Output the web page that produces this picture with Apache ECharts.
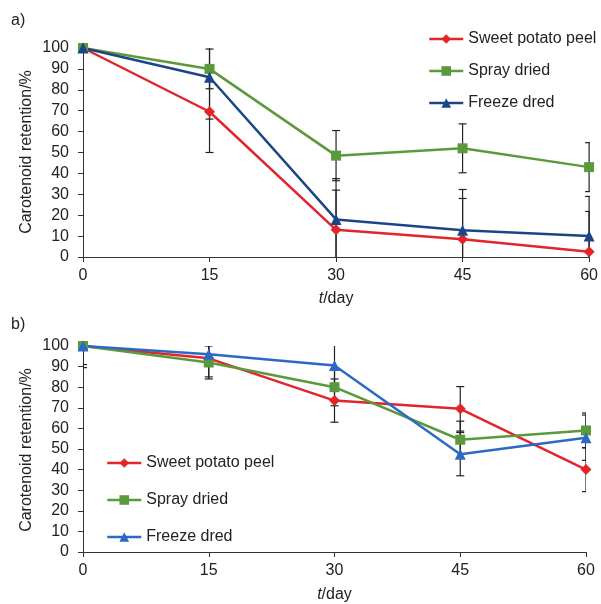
<!DOCTYPE html>
<html>
<head>
<meta charset="utf-8">
<script src="https://cdn.jsdelivr.net/npm/echarts@6/dist/echarts.min.js"></script>
<style>
  html, body { margin: 0; padding: 0; background: #fff; }
  #chart { width: 601px; height: 604px; }
</style>
</head>
<body>
<div id="chart"></div>
<script>
const days = [0, 15, 30, 45, 60];
const names = ['Sweet potato peel', 'Spray dried', 'Freeze dred'];
const yTitle = 'Carotenoid retention/%';

// panel a
const peelA = [100, 69.5, 13, 8.5, 2.5];
const peelAErr = [0, 19.5, 19, 19.5, 19.3];
const sprayA = [100, 90, 48.5, 52, 43];
const sprayAErr = [0, 9.5, 12, 11.7, 11.7];
const freezeA = [100, 86, 18, 12.8, 10];
const freezeAErr = [0, 20, 19.5, 19.5, 19];

// panel b
const peelB = [100, 94, 73.5, 69.5, 40];
const peelBErr = [10.5, 9, 10.5, 10.8, 10.7];
const sprayB = [100, 92, 80, 54.5, 59];
const sprayBErr = [9, 8, 9, 9, 8.5];
const freezeB = [100, 96, 90.5, 47.5, 55.5];
const freezeBErr = [0, 4.5, 10, 10.5, 11];

const red = '#e2242b';
const green = '#5a9a3d';
const blueA = '#1c4587';
const blueB = '#2d68c4';
const symbols = ['diamond', 'rect', 'triangle'];
const symbolSizes = [11, 10, 11];
const font = 'Liberation Sans, Arial, sans-serif';
const textColor = '#222';

const chart = echarts.init(document.getElementById('chart'), null, { renderer: 'canvas' });

function toPairs(values) {
    return days.map((d, i) => [d, values[i]]);
}

function errData(values, errs) {
    const out = [];
    days.forEach((d, i) => {
        if (errs[i] > 0) {
            out.push([d, values[i] - errs[i], values[i] + errs[i]]);
        }
    });
    return out;
}

function lineSeries(name, values, color, idx, grid) {
    return {
        name: name,
        type: 'line',
        xAxisIndex: grid,
        yAxisIndex: grid,
        data: toPairs(values),
        symbol: symbols[idx],
        symbolSize: symbolSizes[idx],
        showAllSymbol: true,
        lineStyle: { color: color, width: 2.5 },
        itemStyle: { color: color },
        z: 3,
        animation: false
    };
}

function errSeries(values, errs, grid) {
    return {
        type: 'custom',
        xAxisIndex: grid,
        yAxisIndex: grid,
        clip: true,
        z: 2,
        silent: true,
        animation: false,
        data: errData(values, errs),
        renderItem: function (params, api) {
            const x = api.value(0);
            const lo = api.coord([x, api.value(1)]);
            const hi = api.coord([x, api.value(2)]);
            const half = 4;
            const style = { stroke: '#222', lineWidth: 1.2 };
            return {
                type: 'group',
                children: [
                    { type: 'line', shape: { x1: lo[0], y1: lo[1], x2: hi[0], y2: hi[1] }, style: style },
                    { type: 'line', shape: { x1: lo[0] - half, y1: lo[1], x2: lo[0] + half, y2: lo[1] }, style: style },
                    { type: 'line', shape: { x1: hi[0] - half, y1: hi[1], x2: hi[0] + half, y2: hi[1] }, style: style }
                ]
            };
        }
    };
}

function xAxis(grid) {
    return {
        type: 'value',
        gridIndex: grid,
        min: 0,
        max: 60,
        interval: 15,
        name: '{i|t}/day',
        nameLocation: 'middle',
        nameGap: grid === 0 ? 34 : 35,
        nameTextStyle: {
            fontFamily: font, fontSize: 16, color: textColor,
            rich: { i: { fontStyle: 'italic', fontFamily: font, fontSize: 16, color: textColor } }
        },
        axisLine: { lineStyle: { color: '#333', width: 1 } },
        axisTick: { show: true, inside: false, length: 5, lineStyle: { color: '#333' } },
        axisLabel: { fontFamily: font, fontSize: 16, color: textColor, margin: 11 },
        splitLine: { show: false }
    };
}

function yAxis(grid) {
    return {
        type: 'value',
        gridIndex: grid,
        min: 0,
        max: 100,
        interval: 10,
        axisLine: { show: true, lineStyle: { color: '#333', width: 1 } },
        axisTick: { show: true, inside: false, length: 5, lineStyle: { color: '#333' } },
        axisLabel: { fontFamily: font, fontSize: 16, color: textColor, margin: 14 },
        splitLine: { show: false }
    };
}

function legend(left, top, gap, colors) {
    return {
        orient: 'vertical',
        left: left,
        top: top,
        itemGap: gap,
        itemWidth: 34,
        itemHeight: 12,
        textStyle: { fontFamily: font, fontSize: 16, color: textColor, lineHeight: 18 },
        data: names.map((n, i) => ({
            name: n,
            itemStyle: { color: colors[i] },
            lineStyle: { color: colors[i], width: 2.5 }
        })),
        selectedMode: false
    };
}

function sideTitle(y) {
    return {
        type: 'text',
        x: 27,
        y: y,
        rotation: Math.PI / 2,
        style: {
            text: yTitle, fontFamily: font, fontSize: 16, fill: textColor,
            align: 'center', verticalAlign: 'middle'
        }
    };
}

chart.setOption({
    backgroundColor: '#fff',
    animation: false,
    grid: [
        { left: 83, right: 11, top: 48, bottom: 347 },
        { left: 83, right: 15, top: 346, bottom: 49 }
    ],
    xAxis: [xAxis(0), xAxis(1)],
    yAxis: [yAxis(0), yAxis(1)],
    legend: [
        legend(423, 25, 14, [red, green, blueA]),
        legend(101, 449, 19, [red, green, blueB])
    ],
    graphic: [
        { type: 'text', left: 11, top: 13, style: { text: 'a)', fontFamily: font, fontSize: 16, fill: textColor } },
        { type: 'text', left: 11, top: 317, style: { text: 'b)', fontFamily: font, fontSize: 16, fill: textColor } },
        sideTitle(152),
        sideTitle(450)
    ],
    series: [
        errSeries(peelA, peelAErr, 0),
        errSeries(sprayA, sprayAErr, 0),
        errSeries(freezeA, freezeAErr, 0),
        lineSeries(names[0], peelA, red, 0, 0),
        lineSeries(names[1], sprayA, green, 1, 0),
        lineSeries(names[2], freezeA, blueA, 2, 0),
        errSeries(peelB, peelBErr, 1),
        errSeries(sprayB, sprayBErr, 1),
        errSeries(freezeB, freezeBErr, 1),
        lineSeries(names[0], peelB, red, 0, 1),
        lineSeries(names[1], sprayB, green, 1, 1),
        lineSeries(names[2], freezeB, blueB, 2, 1)
    ]
});
</script>
</body>
</html>
